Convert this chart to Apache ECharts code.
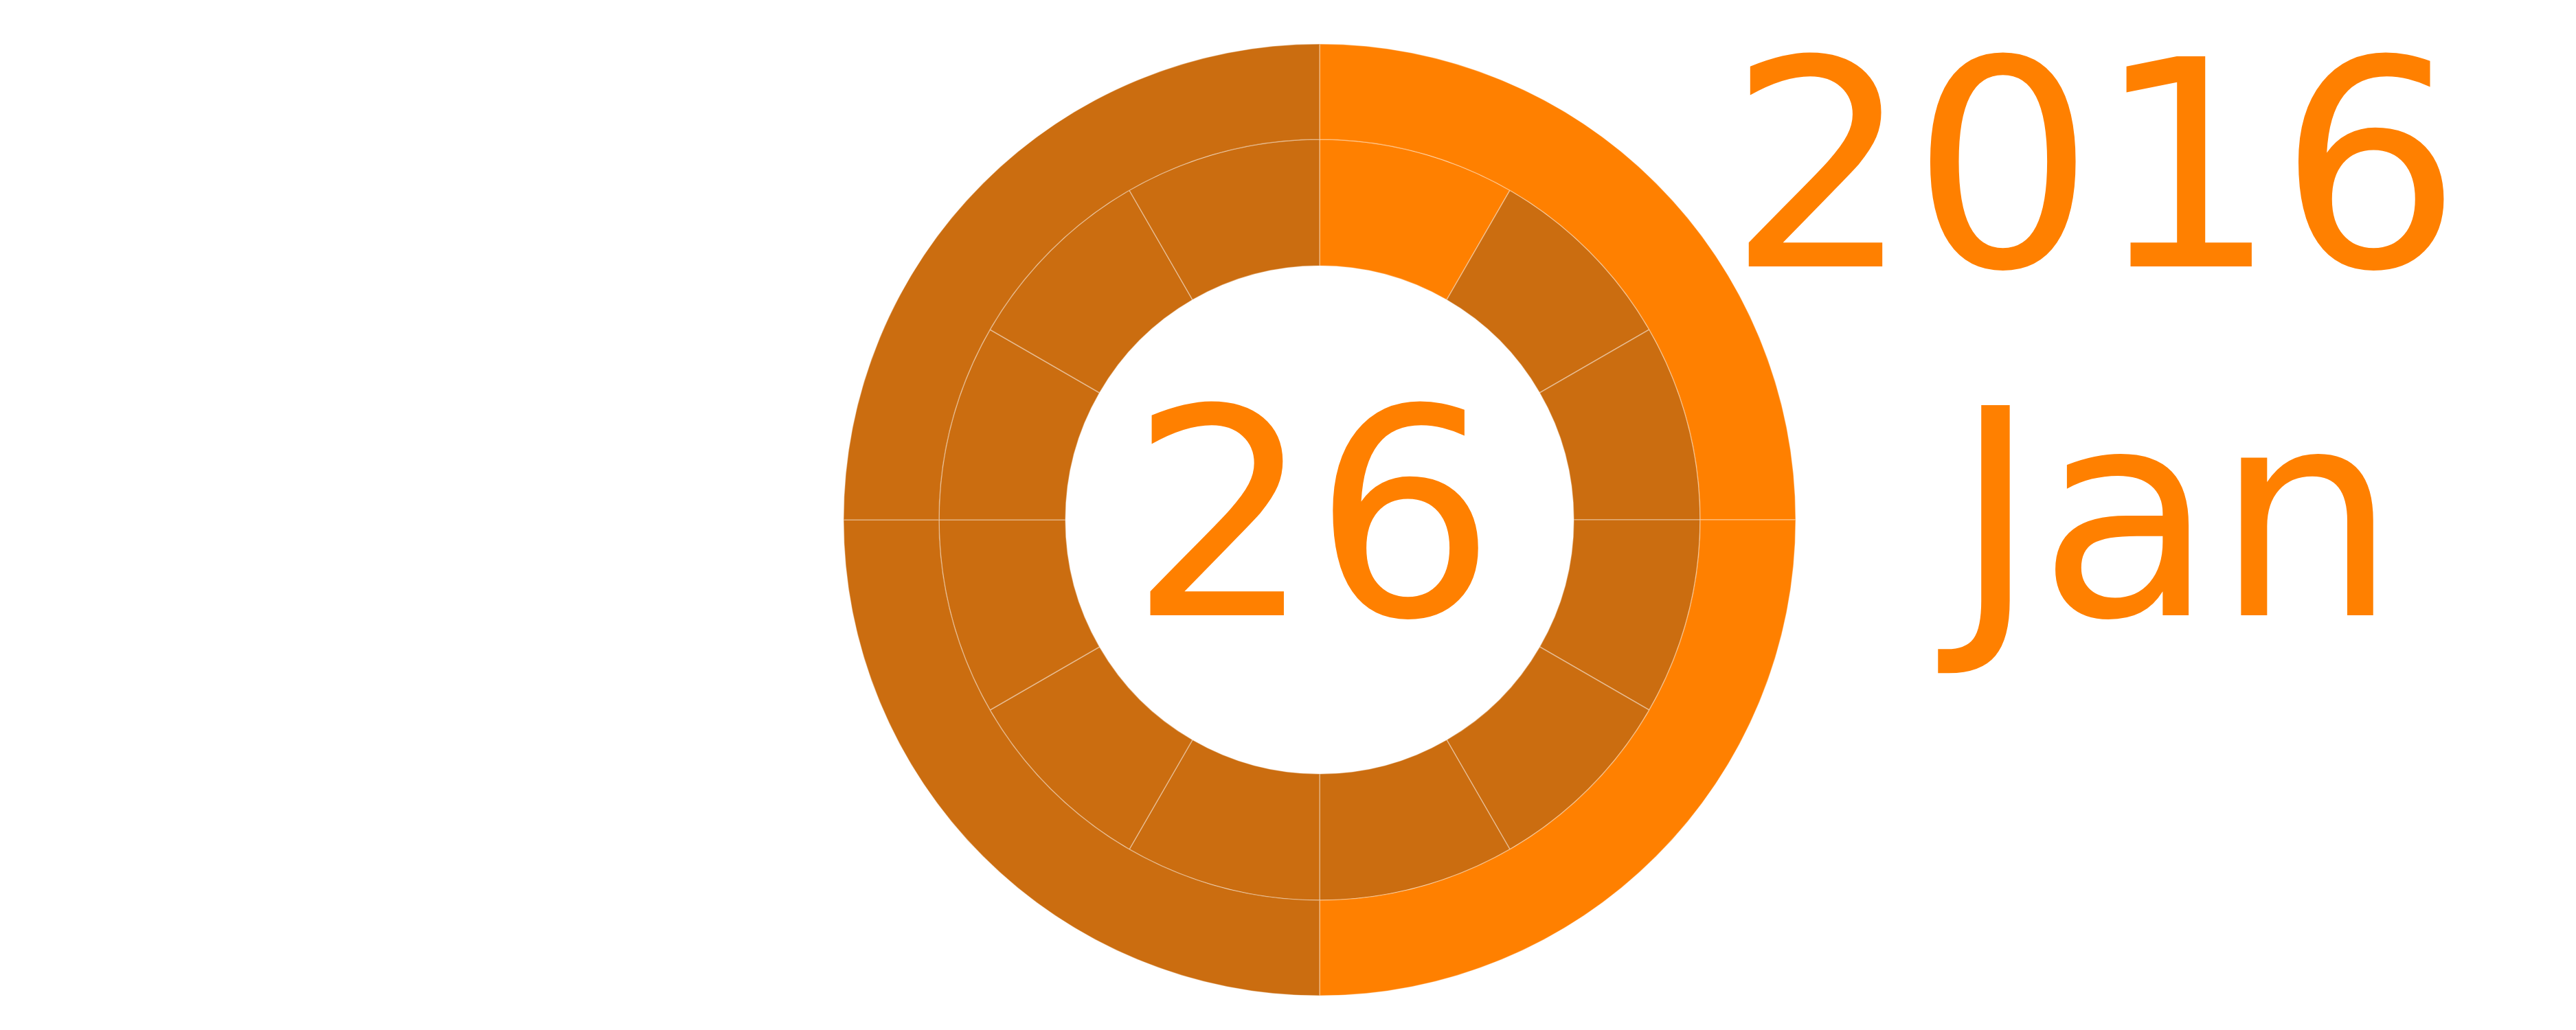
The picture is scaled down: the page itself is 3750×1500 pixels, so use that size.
<!DOCTYPE html>
<html>
<head>
<meta charset="utf-8">
<script src="https://cdn.jsdelivr.net/npm/echarts@6/dist/echarts.min.js"></script>
<style>
html,body{margin:0;padding:0;background:#fff;}
#chart{width:3750px;height:1500px;}
</style>
</head>
<body>
<div id="chart"></div>
<script>
// ---- data ----
const months = ['Jan','Feb','Mar','Apr','May','Jun','Jul','Aug','Sep','Oct','Nov','Dec'];
const monthValues = [1,1,1,1,1,1,1,1,1,1,1,1];
const monthActive = [1,0,0,0,0,0,0,0,0,0,0,0];
const quarters = ['Q1','Q2','Q3','Q4'];
const quarterValues = [1,1,1,1];
const quarterActive = [1,1,0,0];
const yearLabel = '2016';
const dayLabel = '26';
const monthLabel = 'Jan';

// ---- style ----
const BRIGHT = '#FF8000';
const DARK = '#CB6D10';
const SEAM = 'rgba(255,255,255,0.35)';
const FONT = '420px "DejaVu Sans"';
const CX = 1921, CY = 757;

const chart = echarts.init(document.getElementById('chart'), null, {renderer: 'canvas'});

function build(names, values, active) {
  return names.map((n, i) => ({
    name: n,
    value: values[i],
    itemStyle: {color: active[i] ? BRIGHT : DARK}
  }));
}

const common = {
  type: 'pie',
  center: [CX, CY],
  startAngle: 90,
  clockwise: true,
  silent: true,
  animation: false,
  label: {show: false},
  labelLine: {show: false},
  emphasis: {disabled: true},
  itemStyle: {borderColor: SEAM, borderWidth: 1.5}
};

chart.setOption({
  backgroundColor: '#ffffff',
  animation: false,
  series: [
    Object.assign({}, common, {
      name: 'months',
      radius: [370, 554],
      data: build(months, monthValues, monthActive)
    }),
    Object.assign({}, common, {
      name: 'quarters',
      radius: [554, 693],
      data: build(quarters, quarterValues, quarterActive)
    })
  ],
  graphic: [
    {type: 'text', silent: true, style: {text: dayLabel, x: CX - 10, y: 787, font: FONT, fill: BRIGHT, textAlign: 'center', textVerticalAlign: 'middle'}},
    {type: 'text', silent: true, style: {text: yearLabel, x: 2515, y: 279, font: FONT, fill: BRIGHT, textAlign: 'left', textVerticalAlign: 'middle'}},
    {type: 'text', silent: true, style: {text: monthLabel, x: 2843, y: 787, font: FONT, fill: BRIGHT, textAlign: 'left', textVerticalAlign: 'middle'}}
  ]
});
</script>
</body>
</html>
